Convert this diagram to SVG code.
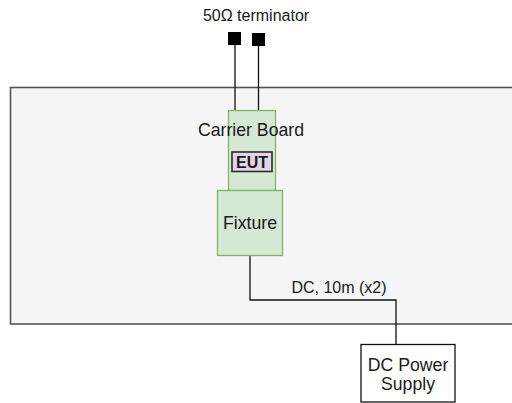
<svg xmlns="http://www.w3.org/2000/svg" width="512" height="403" viewBox="0 0 512 403">
<style>
.t{font-family:"Liberation Sans",Arial,sans-serif;fill:#1a1a1a;text-anchor:middle}
.big{font-size:17.7px}
.sm{font-size:16px}
.green{fill:#d5e8d4;stroke:#82b366;stroke-width:1.3}
.wire{fill:none;stroke:#111;stroke-width:1.3}
</style>
<rect width="512" height="403" fill="#ffffff"/>
<g id="enclosure">
<rect x="10.5" y="87.5" width="520" height="236.5" fill="#f5f5f5" stroke="#555" stroke-width="1.6"/>
</g>
<g id="connectors">
<path class="wire" d="M235 45 V110"/>
<path class="wire" d="M258.5 46 V110" stroke="#444"/>
<path class="wire" d="M250 256 V300 H396 V344"/>
<text class="t sm" x="339" y="293">DC, 10m (x2)</text>
</g>
<g id="terminator">
<rect x="228" y="32" width="13" height="13" fill="#000"/>
<rect x="252" y="33" width="13" height="13" fill="#000"/>
<text class="t sm" x="256" y="21">50Ω terminator</text>
</g>
<g id="carrier-board">
<rect class="green" x="228.5" y="110.5" width="47" height="80"/>
<text class="t big" x="251" y="136">Carrier Board</text>
</g>
<g id="eut">
<rect x="232" y="152" width="40" height="19.5" fill="#e1d5e7" stroke="#222" stroke-width="1.5"/>
<text class="t" x="252" y="167.5" style="font-size:16px;font-weight:bold">EUT</text>
</g>
<g id="fixture">
<rect class="green" x="217.5" y="190.5" width="65" height="65"/>
<text class="t big" x="250" y="229">Fixture</text>
</g>
<g id="dc-power-supply">
<rect x="361" y="344.5" width="94" height="57.5" fill="#fff" stroke="#111" stroke-width="1.3"/>
<text class="t big" x="408" y="371">DC Power</text>
<text class="t big" x="408" y="390">Supply</text>
</g>
</svg>
